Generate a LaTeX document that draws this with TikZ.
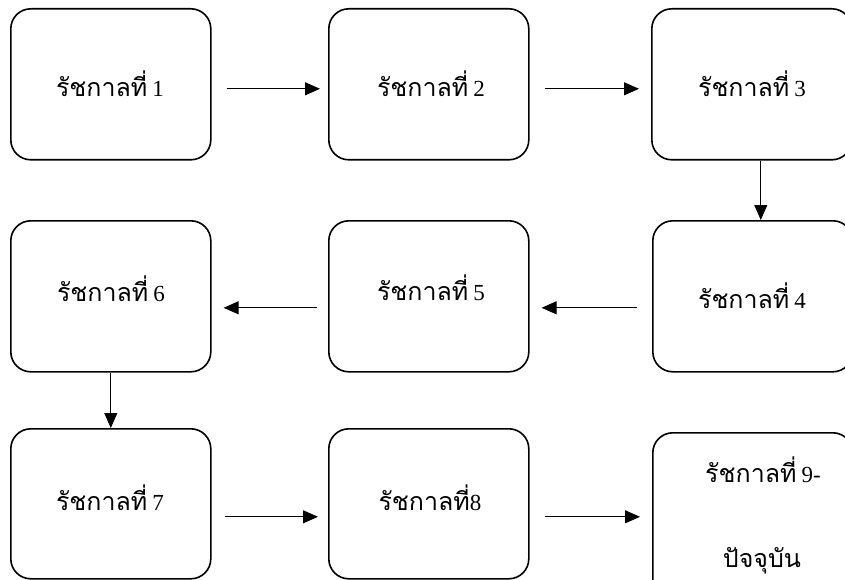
\documentclass[tikz,border=0pt]{standalone}
\usepackage{fontspec}
\newfontfamily\thaifont[Script=Thai]{Loma}
\newfontfamily\numfont{Liberation Serif}
\usetikzlibrary{arrows.meta}
\newcommand{\rc}[1]{{\thaifont\fontsize{25}{30}\selectfont รัชกาลที่}#1}
\newcommand{\nm}[1]{{\numfont\fontsize{23}{28}\selectfont #1}}
\newcommand{\gap}{\hspace{5pt}}
\begin{document}
\begin{tikzpicture}[x=1pt,y=-1pt,
  box/.style={draw,line width=1.6pt,rounded corners=20pt,minimum width=200pt,
              minimum height=151pt,inner sep=0pt,anchor=north west},
  lbl/.style={anchor=base,inner sep=0pt},
  conn/.style={line width=0.9pt,-{Triangle[length=15pt,width=13pt]}}]
\useasboundingbox (0,0) rectangle (845,580);
\clip (0,0) rectangle (845,580);
\fill[white] (0,0) rectangle (845,580);
% boxes
\node[box] (b1) at (10,8) {};
\node[box] (b2) at (328,8) {};
\node[box] (b3) at (651,8) {};
\node[box] (b4) at (652,220) {};
\node[box] (b5) at (328,220) {};
\node[box] (b6) at (10,220) {};
\node[box,minimum height=150pt] (b7) at (10,428) {};
\node[box,minimum height=150pt] (b8) at (328,428) {};
\node[box,minimum height=170pt] (b9) at (652,432) {};
% labels
\node[lbl] (t1) at (110,97) {\rc{\gap\nm{1}}};
\node[lbl] (t2) at (431,97) {\rc{\gap\nm{2}}};
\node[lbl] (t3) at (752,97) {\rc{\gap\nm{3}}};
\node[lbl] (t4) at (752,308) {\rc{\gap\nm{4}}};
\node[lbl] (t5) at (431,300) {\rc{\gap\nm{5}}};
\node[lbl] (t6) at (111,301) {\rc{\gap\nm{6}}};
\node[lbl] (t7) at (110,510) {\rc{\gap\nm{7}}};
\node[lbl] (t8) at (430,510) {\rc{\nm{8}}};
\node[lbl] (t9a) at (763,482) {\rc{\gap\nm{9-}}};
\node[lbl] (t9b) at (762,567) {\thaifont\fontsize{25}{30}\selectfont ปัจจุบัน};
% connectors
\draw[conn] ([shift={(15,4.5)}]b1.east) -- ([shift={(-8,4.5)}]b2.west);
\draw[conn] ([shift={(15,4.5)}]b2.east) -- ([shift={(-12,4.5)}]b3.west);
\draw[conn] ([xshift=9pt]b3.south) -- ([xshift=8pt]b4.north);
\draw[conn] ([shift={(-15,11.5)}]b4.west) -- ([shift={(12,11.5)}]b5.east);
\draw[conn] ([shift={(-11,11.5)}]b5.west) -- ([shift={(12,11.5)}]b6.east);
\draw[conn] (b6.south) -- (b7.north);
\draw[conn] ([shift={(13,13)}]b7.east) -- ([shift={(-10,13)}]b8.west);
\draw[conn] ([shift={(15,13)}]b8.east) -- ([shift={(-12,-1)}]b9.west);
\end{tikzpicture}
\end{document}
